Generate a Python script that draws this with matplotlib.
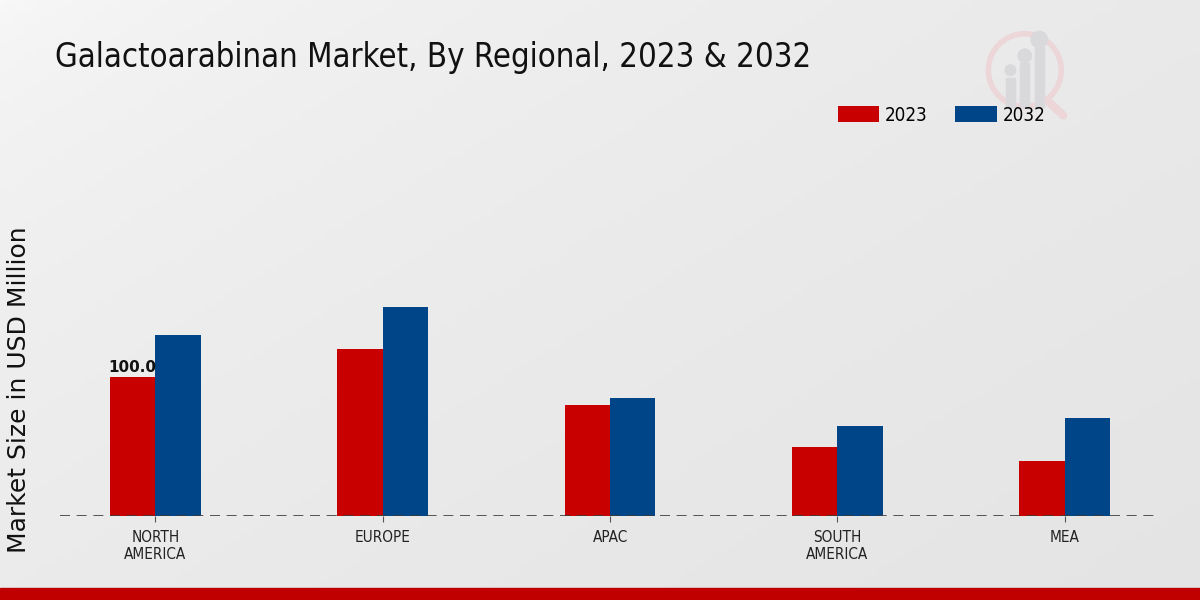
import numpy as np
import matplotlib.pyplot as plt
from matplotlib.patches import Rectangle, Circle

# Data
regions = ["NORTH\nAMERICA", "EUROPE", "APAC", "SOUTH\nAMERICA", "MEA"]
years = ["2023", "2032"]
values_2023 = [100.0, 120.1, 79.9, 49.6, 39.6]
values_2032 = [130.2, 150.4, 84.9, 64.7, 70.5]

red = "#c80000"
blue = "#004587"
cond = dict(family="DejaVu Sans", fontstretch="condensed")

fig = plt.figure(figsize=(12, 6), dpi=100)

# light grey gradient background (lighter at top-left)
bg = fig.add_axes([0, 0, 1, 1], zorder=-10)
xx, yy = np.meshgrid(np.linspace(0, 1, 200), np.linspace(0, 1, 100))
t = np.clip(0.55 * xx + 0.45 * yy, 0, 1)
light, dark = 0.975, 0.895
shade = light + (dark - light) * np.sqrt(t)
img = np.dstack([shade, shade, shade * 1.003])
bg.imshow(np.clip(img, 0, 1), aspect="auto", extent=[0, 1, 0, 1], origin="upper")
bg.set_xlim(0, 1)
bg.set_ylim(0, 1)
bg.axis("off")
# red bottom stripe
bg.add_patch(Rectangle((0, 0), 1, 0.02, color="#c00000", transform=bg.transAxes))

# faint logo watermark
logo = fig.add_axes([0.817, 0.795, 0.082, 0.16])
logo.set_xlim(0, 1)
logo.set_ylim(0, 1)
logo.set_aspect("equal")
logo.axis("off")
logo.add_patch(Circle((0.45, 0.55), 0.38, fill=False, lw=4, ec="#ecd6d8"))
logo.plot([0.7, 0.85], [0.22, 0.08], color="#ecd6d8", lw=6, solid_capstyle="round")
for bx, bh in [(0.3, 0.3), (0.45, 0.45), (0.6, 0.62)]:
    logo.add_patch(Rectangle((bx - 0.045, 0.17), 0.09, bh, color="#d9d9dc"))
    logo.add_patch(Circle((bx, 0.17 + bh + 0.08), 0.055 + (bx - 0.3) * 0.1, color="#d9d9dc"))

# main axes: left 60px, right 1160px, baseline y=516
ax = fig.add_axes([0.05, 0.14, 0.9167, 0.61])
ax.patch.set_alpha(0)
x = np.arange(len(regions))
w = 0.2
ax.bar(x - w / 2, values_2023, w, color=red, label=years[0], zorder=3)
ax.bar(x + w / 2, values_2032, w, color=blue, label=years[1], zorder=3)

ax.set_xlim(-0.42, len(regions) - 1 + 0.42)
ax.set_ylim(0, 263)
ax.axhline(0, color="#3a3a3a", lw=1.2, ls=(0, (6, 4)), zorder=4)
for s in ax.spines.values():
    s.set_visible(False)
ax.set_yticks([])
ax.set_xticks(x)
ax.set_xticklabels(regions, fontsize=11, color="#222222", **cond)
ax.tick_params(axis="x", length=4, color="#555555", pad=6)

ax.text(x[0] - w / 2, values_2023[0] + 1.5, f"{values_2023[0]:.1f}",
        ha="center", va="bottom", fontsize=11, fontweight="bold", color="#111111")

fig.text(0.016, 0.35, "Market Size in USD Million", rotation=90,
         fontsize=18, va="center", ha="center", color="#111111")
fig.text(0.046, 0.905, "Galactoarabinan Market, By Regional, 2023 & 2032",
         fontsize=23.6, va="center", ha="left", color="#111111", **cond)

handles, labels = ax.get_legend_handles_labels()
fig.legend(handles, labels, loc="center left", bbox_to_anchor=(0.684, 0.808), ncol=2,
           frameon=False, handlelength=2.2, handleheight=0.9,
           columnspacing=1.5, handletextpad=0.3,
           prop=dict(size=13.5, stretch="condensed", family="DejaVu Sans"))

fig.savefig("out.png", dpi=100)
